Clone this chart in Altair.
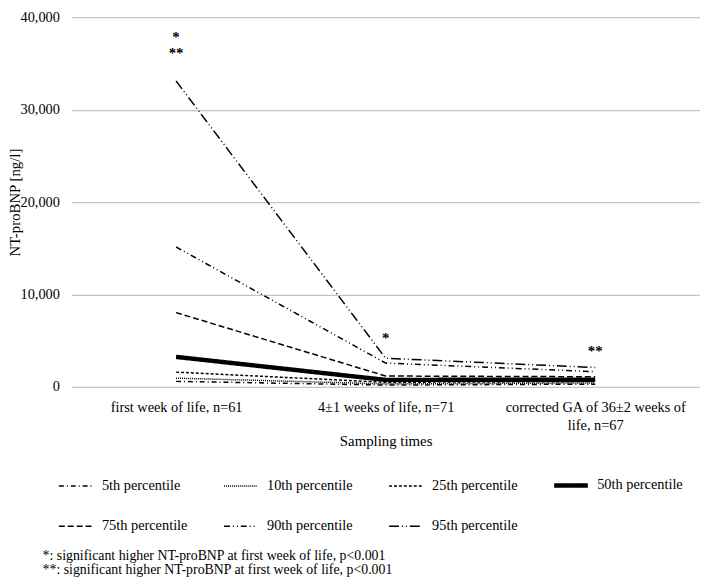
import altair as alt
import pandas as pd

times = [
    "first week of life, n=61",
    "4±1 weeks of life, n=71",
    "corrected GA of 36±2 weeks of life, n=67",
]
series = [
    "5th percentile", "10th percentile", "25th percentile", "50th percentile",
    "75th percentile", "90th percentile", "95th percentile",
]
p5 = [600, 200, 300]
p10 = [950, 330, 430]
p25 = [1600, 500, 580]
p50 = [3250, 760, 780]
p75 = [8040, 1180, 1100]
p90 = [15140, 2580, 1650]
p95 = [33100, 3100, 2100]
values = [p5, p10, p25, p50, p75, p90, p95]

star_times = [times[0], times[0], times[1], times[2]]
star_values = [37900, 36100, 5300, 3850]
star_labels = ["*", "**", "*", "**"]

footnotes = [
    "*: significant higher NT-proBNP at first week of life, p<0.001",
    "**: significant higher NT-proBNP at first week of life, p<0.001",
]

rows = []
for s, vals in zip(series, values):
    for t, v in zip(times, vals):
        rows.append({"time": t, "series": s, "value": v})
df = pd.DataFrame(rows)
stars = pd.DataFrame({"time": star_times, "value": star_values, "label": star_labels})

FONT = "Liberation Serif"
dashes = [[5, 3, 1, 3], [1, 1], [3, 2], [1, 0], [6, 3], [6, 3, 1, 3, 1, 3], [10, 3, 1, 3, 1, 3]]
widths = [1.5, 1.5, 1.5, 4.5, 1.5, 1.5, 1.5]

x_scale = alt.Scale(type="point", padding=0.5, domain=times)
y_scale = alt.Scale(domain=[0, 40000], nice=False)

x_axis = alt.Axis(
    labelExpr="datum.label == 'corrected GA of 36±2 weeks of life, n=67' ? ['corrected GA of 36±2 weeks of', 'life, n=67'] : datum.label",
)
y_axis = alt.Axis(values=[0, 10000, 20000, 30000, 40000], format=",d")

legend = alt.Legend(
    title=None, orient="none", legendX=-15, legendY=454, columns=4, direction="horizontal",
    gridAlign="all",
    symbolType="stroke", symbolSize=1156, symbolStrokeColor="black",
    labelFont=FONT, labelFontSize=14.5, labelColor="black", labelOffset=7,
    columnPadding=27, rowPadding=14, padding=0,
)

lines = alt.Chart(df).mark_line(color="black", strokeCap="butt").encode(
    x=alt.X("time:N", sort=times, title="Sampling times", scale=x_scale, axis=x_axis),
    y=alt.Y("value:Q", title="NT-proBNP [ng/l]", scale=y_scale, axis=y_axis),
    strokeDash=alt.StrokeDash("series:O", sort=series,
                              scale=alt.Scale(type="ordinal", domain=series, range=dashes),
                              legend=legend),
    strokeWidth=alt.StrokeWidth("series:O", sort=series,
                                scale=alt.Scale(type="ordinal", domain=series, range=widths),
                                legend=legend),
    detail="series:N",
)

star_text = alt.Chart(stars).mark_text(font=FONT, fontSize=15, fontWeight="bold", color="black",
                                        baseline="middle").encode(
    x=alt.X("time:N", sort=times, title="Sampling times", scale=x_scale, axis=x_axis),
    y=alt.Y("value:Q", title="NT-proBNP [ng/l]", scale=y_scale, axis=y_axis),
    text="label:N",
)

foot1 = alt.Chart(pd.DataFrame({"t": [footnotes[0]]})).mark_text(
    font=FONT, fontSize=14, align="left", baseline="middle", color="black"
).encode(text="t:N", x=alt.value(-29), y=alt.value(545))
foot2 = alt.Chart(pd.DataFrame({"t": [footnotes[1]]})).mark_text(
    font=FONT, fontSize=14, align="left", baseline="middle", color="black"
).encode(text="t:N", x=alt.value(-29), y=alt.value(559))

chart = alt.layer(lines, star_text, foot1, foot2).properties(
    width=636, height=374,
    autosize=alt.AutoSizeParams(type="none"),
    padding={"left": 64, "top": 6, "right": 0, "bottom": 191},
    background="white",
).configure_view(stroke=None).configure_axis(
    labelFont=FONT, titleFont=FONT, labelColor="black", titleColor="black",
    titleFontWeight="normal", domain=False, ticks=False, labelFontSize=14.5, titleFontSize=15,
    labelLimit=400,
).configure_axisX(
    grid=False, labelAngle=0, labelPadding=14, labelLineHeight=18, titlePadding=2,
).configure_axisY(
    labelPadding=12, gridColor="#c4c4c4", gridWidth=1.3, titlePadding=-3,
)

chart.save("out.html", embed_options={"renderer": "svg", "actions": False})
